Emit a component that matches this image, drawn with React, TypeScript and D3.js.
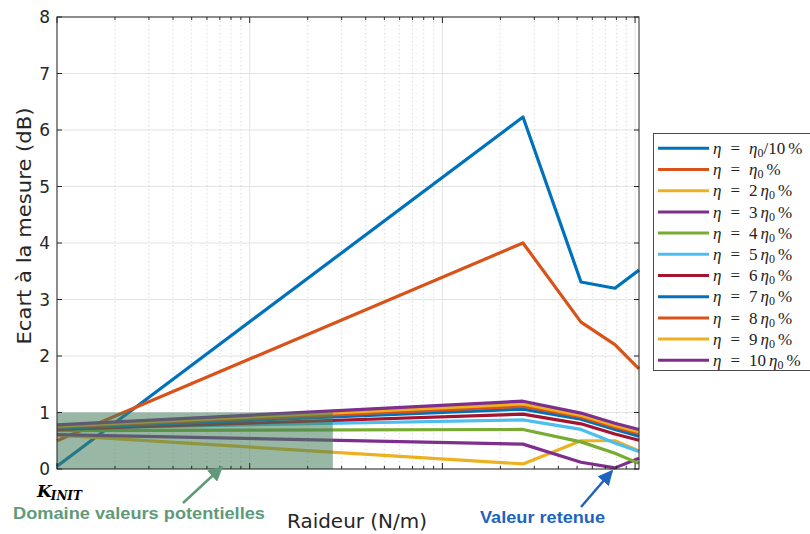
import React from "react";
import * as d3 from "d3";

const W = 810;
const H = 534;

// Stiffness values (N/m), log scale
const kValues = [1e3, 2.62e5, 5.24e5, 7.86e5, 1.048e6];
const xDomain = [1e3, 1.048e6];
const yTicks = [0, 1, 2, 3, 4, 5, 6, 7, 8];

const seriesNames = ["η0/10", "η0", "2", "3", "4", "5", "6", "7", "8", "9", "10"];
const seriesColors = [
  "#0072BD", "#D95319", "#EDB120", "#7E2F8E", "#77AC30", "#4DBEEE",
  "#A2142F", "#0072BD", "#D95319", "#EDB120", "#7E2F8E",
];
const s1 = [0.05, 6.23, 3.31, 3.2, 3.52];
const s2 = [0.5, 4.0, 2.6, 2.2, 1.77];
const s3 = [0.6, 0.09, 0.5, 0.5, 0.32];
const s4 = [0.61, 0.44, 0.12, 0.02, 0.19];
const s5 = [0.68, 0.7, 0.48, 0.28, 0.1];
const s6 = [0.72, 0.87, 0.7, 0.46, 0.31];
const s7 = [0.7, 0.97, 0.8, 0.62, 0.51];
const s8 = [0.72, 1.06, 0.88, 0.7, 0.58];
const s9 = [0.74, 1.11, 0.92, 0.74, 0.63];
const s10 = [0.76, 1.15, 0.95, 0.77, 0.66];
const s11 = [0.78, 1.2, 0.99, 0.81, 0.7];
const allSeries = [s1, s2, s3, s4, s5, s6, s7, s8, s9, s10, s11];

// potential domain (shaded box)
const domainK = [1e3, 2.7e4];
const domainY = [0, 1];

const M = { left: 57, right: 639, top: 17, bottom: 469 };

export default function App() {
  const x = d3.scaleLog().domain(xDomain).range([M.left, M.right]);
  const y = d3.scaleLinear().domain([0, 8]).range([M.bottom, M.top]);
  const line = d3
    .line<number>()
    .x((_, i) => x(kValues[i]))
    .y((d) => y(d));

  const majors = [1e3, 1e4, 1e5, 1e6];
  const minors: number[] = [];
  [1e3, 1e4, 1e5].forEach((dec) => {
    for (let m = 2; m <= 9; m++) minors.push(dec * m);
  });

  const axisCol = "#262626";
  const sans = "'DejaVu Sans', sans-serif";
  const serif = "'Liberation Serif', 'DejaVu Serif', serif";
  const bold = "'Liberation Sans', Arial, sans-serif";

  return (
    <svg width={W} height={H} style={{ position: "absolute", left: 0, top: 0, background: "#fff" }}>
      <rect x={0} y={0} width={W} height={H} fill="#fff" />
      {/* grid */}
      {yTicks.map((t) => (
        <line key={"gy" + t} x1={M.left} x2={M.right} y1={y(t)} y2={y(t)} stroke="#e3e3e3" strokeWidth={1} />
      ))}
      {minors.map((v) => (
        <line key={"gmx" + v} x1={x(v)} x2={x(v)} y1={M.top} y2={M.bottom} stroke="#c4c4c4" strokeWidth={0.8} strokeDasharray="1,3" />
      ))}
      {majors.map((v) => (
        <line key={"gx" + v} x1={x(v)} x2={x(v)} y1={M.top} y2={M.bottom} stroke="#e3e3e3" strokeWidth={1} />
      ))}
      {/* series */}
      {allSeries.map((s, i) => (
        <path key={"s" + i} d={line(s) || ""} fill="none" stroke={seriesColors[i]} strokeWidth={3.2} strokeLinejoin="round" />
      ))}
      {/* shaded domain */}
      <rect
        x={x(domainK[0])}
        y={y(domainY[1])}
        width={x(domainK[1]) - x(domainK[0])}
        height={y(domainY[0]) - y(domainY[1])}
        fill="#437d5b"
        fillOpacity={0.55}
      />
      {/* axes box */}
      <rect x={M.left} y={M.top} width={M.right - M.left} height={M.bottom - M.top} fill="none" stroke={axisCol} strokeWidth={1} />
      {yTicks.map((t) => (
        <g key={"ty" + t}>
          <line x1={M.left} x2={M.left + 5} y1={y(t)} y2={y(t)} stroke={axisCol} />
          <line x1={M.right} x2={M.right - 5} y1={y(t)} y2={y(t)} stroke={axisCol} />
          <text x={50} y={y(t)} dy="0.36em" textAnchor="end" fontFamily={sans} fontSize={17} fill={axisCol}>
            {t}
          </text>
        </g>
      ))}
      {majors.map((v) => (
        <g key={"tx" + v}>
          <line x1={x(v)} x2={x(v)} y1={M.bottom} y2={M.bottom - 6} stroke={axisCol} />
          <line x1={x(v)} x2={x(v)} y1={M.top} y2={M.top + 6} stroke={axisCol} />
        </g>
      ))}
      {minors.map((v) => (
        <g key={"tmx" + v}>
          <line x1={x(v)} x2={x(v)} y1={M.bottom} y2={M.bottom - 3} stroke={axisCol} />
          <line x1={x(v)} x2={x(v)} y1={M.top} y2={M.top + 3} stroke={axisCol} />
        </g>
      ))}
      {/* axis labels */}
      <text
        transform={`translate(24,226) rotate(-90)`}
        textAnchor="middle"
        dy="0.35em"
        fontFamily={sans}
        fontSize={19}
        textLength={237}
        lengthAdjust="spacingAndGlyphs"
        fill={axisCol}
      >
        Ecart à la mesure (dB)
      </text>
      <text x={357} y={528} textAnchor="middle" fontFamily={sans} fontSize={19} textLength={140} lengthAdjust="spacingAndGlyphs" fill={axisCol}>
        Raideur (N/m)
      </text>
      {/* K_INIT */}
      <text x={37} y={497} fontFamily="'DejaVu Serif', serif" fontWeight="bold" fontStyle="italic" fill="#000">
        <tspan fontSize={17}>K</tspan>
        <tspan fontSize={12} dy={3} dx={-1}>INIT</tspan>
      </text>
      {/* annotations */}
      <defs>
        <marker id="ahG" viewBox="0 0 10 10" refX="9" refY="5" markerWidth="6" markerHeight="6" orient="auto">
          <path d="M0,0 L10,5 L0,10 z" fill="#5f9a78" />
        </marker>
        <marker id="ahB" viewBox="0 0 10 10" refX="9" refY="5" markerWidth="6" markerHeight="6" orient="auto">
          <path d="M0,0 L10,5 L0,10 z" fill="#1f63c0" />
        </marker>
      </defs>
      <line x1={183} y1={503} x2={222} y2={467} stroke="#5f9a78" strokeWidth={2.5} markerEnd="url(#ahG)" />
      <text x={13} y={519} fontFamily={bold} fontWeight="bold" fontSize={17} textLength={252} lengthAdjust="spacingAndGlyphs" fill="#5f9a78">
        Domaine valeurs potentielles
      </text>
      <line x1={581} y1={507} x2={612} y2={471} stroke="#1f63c0" strokeWidth={2.5} markerEnd="url(#ahB)" />
      <text x={480} y={523} fontFamily={bold} fontWeight="bold" fontSize={17} textLength={125} lengthAdjust="spacingAndGlyphs" fill="#1f63c0">
        Valeur retenue
      </text>
      {/* legend */}
      <rect x={653.5} y={133.5} width={170} height={237} fill="#fff" stroke="#4a4a4a" strokeWidth={1} />
      {seriesNames.map((n, i) => {
        const ly = 148.3 + i * 21.2;
        return (
          <g key={"lg" + i}>
            <line x1={658} x2={709} y1={ly} y2={ly} stroke={seriesColors[i]} strokeWidth={3} />
            <text x={713} y={ly} dy="0.33em" fontFamily={serif} fontSize={17} fill="#222">
              <tspan fontStyle="italic">η</tspan>
              <tspan dx={9}>=</tspan>
              {i === 0 ? (
                <>
                  <tspan dx={9} fontStyle="italic">η</tspan>
                  <tspan fontSize={12} dy={3}>0</tspan>
                  <tspan dy={-3}>/10</tspan>
                  <tspan dx={3}>%</tspan>
                </>
              ) : i === 1 ? (
                <>
                  <tspan dx={9} fontStyle="italic">η</tspan>
                  <tspan fontSize={12} dy={3}>0</tspan>
                  <tspan dy={-3} dx={3}>%</tspan>
                </>
              ) : (
                <>
                  <tspan dx={9}>{n}</tspan>
                  <tspan dx={3} fontStyle="italic">η</tspan>
                  <tspan fontSize={12} dy={3}>0</tspan>
                  <tspan dy={-3} dx={3}>%</tspan>
                </>
              )}
            </text>
          </g>
        );
      })}
    </svg>
  );
}
